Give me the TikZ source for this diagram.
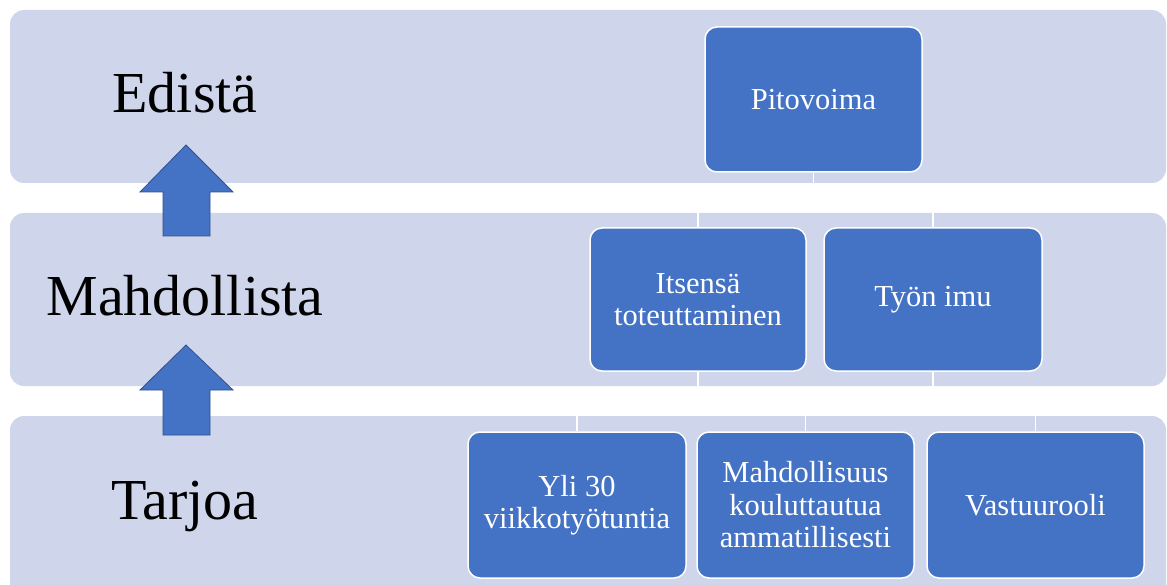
\documentclass[tikz,border=0pt]{standalone}
\usepackage{fontspec}
\setmainfont{Liberation Serif}
\definecolor{bandfill}{HTML}{CFD5EA}
\definecolor{boxblue}{HTML}{4472C4}
\definecolor{arrowedge}{HTML}{2F528F}
\begin{document}
\begin{tikzpicture}[x=1pt,y=-1pt,
  bandbox/.style={fill=bandfill, rounded corners=14pt},
  item/.style={draw=white, line width=1.5pt, fill=boxblue, rounded corners=12pt,
    text=white, font=\fontsize{30.5}{32.5}\selectfont, align=center, inner sep=0pt},
  link/.style={draw=white, line width=1.5pt},
  level/.style={font=\fontsize{58}{60}\selectfont, anchor=base},
  uparrow/.style={fill=boxblue, draw=arrowedge, line width=0.8pt, line join=miter}]
\useasboundingbox (0,0) rectangle (1167,585);
\clip (0,0) rectangle (1167,585);

% three horizontal bands
\fill[bandbox] (10,10) rectangle (1166,183);
\fill[bandbox] (10,213) rectangle (1166,386);
\fill[bandbox] (10,416) rectangle (1166,610);

% level labels
\node[level] (edista) at (185,113) {Edistä};
\node[level] (mahdollista) at (185,316) {Mahdollista};
\node[level] (tarjoa) at (185,519) {Tarjoa};

% upward block arrows between the levels
\draw[uparrow] (186,145) -- (233,192) -- (210,192) -- (210,236) -- (163,236) -- (163,192) -- (140,192) -- cycle;
\draw[uparrow] (186,345) -- (233,390) -- (210,390) -- (210,435) -- (163,435) -- (163,390) -- (140,390) -- cycle;

% hierarchy boxes
\node[item, minimum width=217pt, minimum height=145pt] (pito) at (813.5,99.5) {Pitovoima};
\node[item, minimum width=216pt, minimum height=143pt] (itse) at (698,299.5) {Itsensä\\toteuttaminen};
\node[item, minimum width=218pt, minimum height=143pt] (tyon) at (933,299.5) {Työn imu};
\node[item, minimum width=218pt, minimum height=146pt] (yli) at (577,505) {Yli 30\\viikkotyötuntia};
\node[item, minimum width=217pt, minimum height=146pt] (mahd) at (805.5,505) {Mahdollisuus\\kouluttautua\\ammatillisesti};
\node[item, minimum width=217pt, minimum height=146pt] (vast) at (1035.5,505) {Vastuurooli};

% connectors, routed through the gaps between the bands
\coordinate (g1) at (0,198);
\coordinate (g2) at (0,401);
\draw[link] (pito.south) -- (pito.south |- g1) -| (itse.north);
\draw[link] (pito.south |- g1) -| (tyon.north);
\draw[link] (itse.south) -- (itse.south |- g2) -| (yli.north);
\draw[link] (itse.south |- g2) -| (mahd.north);
\draw[link] (tyon.south) -- (tyon.south |- g2) -| (vast.north);
\end{tikzpicture}
\end{document}
